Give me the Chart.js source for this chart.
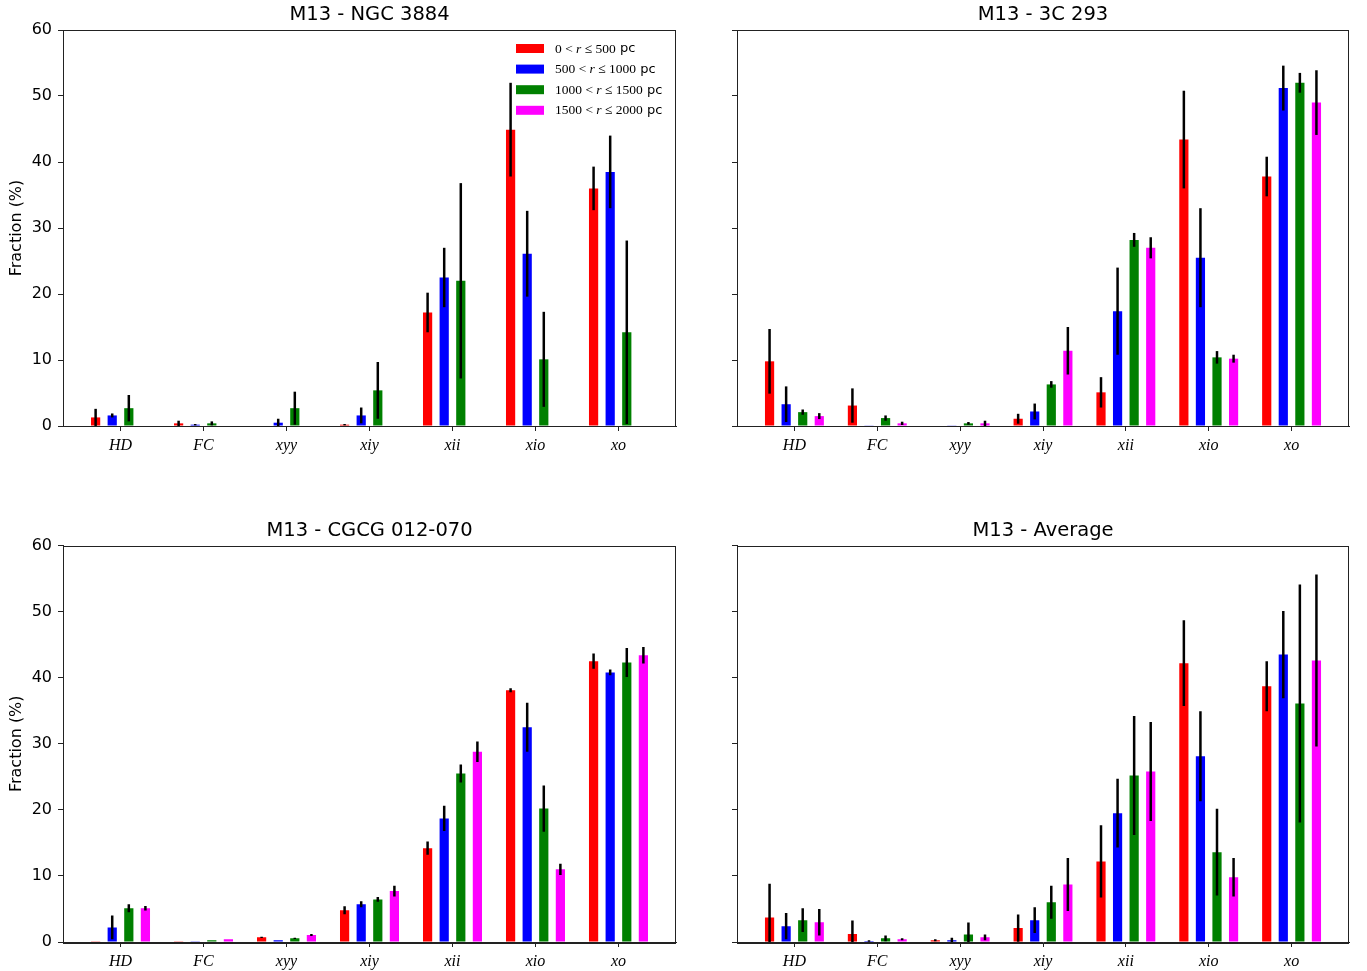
<!DOCTYPE html>
<html>
<head>
<meta charset="utf-8">
<script src="https://cdn.jsdelivr.net/npm/chart.js@4.4.1/dist/chart.umd.min.js"></script>
<style>
body { margin: 0; background: #fff; width: 1367px; height: 971px; position: relative; overflow: hidden; }
canvas { position: absolute; }
</style>
</head>
<body>
<canvas id="c1"></canvas>
<canvas id="c2"></canvas>
<canvas id="c3"></canvas>
<canvas id="c4"></canvas>
<script>
// categories and radial bins
const categories = ['HD', 'FC', 'xyy', 'xiy', 'xii', 'xio', 'xo'];
const binLo = [0, 500, 1000, 1500];
const binHi = [500, 1000, 1500, 2000];
const yTicks = [0, 10, 20, 30, 40, 50, 60];
const colors = ['#ff0000', '#0000ff', '#008000', '#ff00ff'];

// fractions (%) per bin, one row per radial bin
const ngc3884Frac = [
    [1.3, 0.4, 0, 0.2, 17.2, 44.9, 36.0],
    [1.6, 0.2, 0.5, 1.6, 22.5, 26.1, 38.5],
    [2.7, 0.4, 2.7, 5.4, 22.0, 10.1, 14.2],
    [0, 0, 0, 0, 0, 0, 0]
];
const ngc3884Err = [
    [1.3, 0.4, 0, 0.1, 3.0, 7.1, 3.3],
    [0.3, 0.1, 0.6, 1.2, 4.5, 6.5, 5.5],
    [2.0, 0.3, 2.5, 4.3, 14.8, 7.2, 13.9],
    [0, 0, 0, 0, 0, 0, 0]
];
const c3c293Frac = [
    [9.8, 3.1, 0, 1.1, 5.1, 43.4, 37.8],
    [3.3, 0.1, 0.05, 2.2, 17.4, 25.5, 51.2],
    [2.1, 1.2, 0.4, 6.3, 28.2, 10.4, 52.0],
    [1.5, 0.4, 0.4, 11.4, 27.0, 10.2, 49.0]
];
const c3c293Err = [
    [4.9, 2.6, 0, 0.75, 2.3, 7.4, 3.0],
    [2.7, 0, 0, 1.2, 6.6, 7.5, 3.4],
    [0.4, 0.4, 0.2, 0.5, 1.05, 0.95, 1.5],
    [0.45, 0.25, 0.4, 3.6, 1.6, 0.6, 4.9]
];
const cgcgFrac = [
    [0.05, 0.05, 0.7, 4.8, 14.2, 38.1, 42.5],
    [2.2, 0.05, 0.25, 5.7, 18.7, 32.5, 40.8],
    [5.1, 0.25, 0.55, 6.45, 25.5, 20.2, 42.3],
    [5.1, 0.4, 1.05, 7.7, 28.8, 11.0, 43.4]
];
const cgcgErr = [
    [0, 0, 0.1, 0.6, 1.0, 0.3, 1.15],
    [1.8, 0, 0, 0.45, 1.9, 3.7, 0.45],
    [0.6, 0, 0.1, 0.35, 1.35, 3.5, 2.2],
    [0.35, 0, 0.15, 0.8, 1.55, 0.85, 1.25]
];
const avgFrac = [
    [3.7, 1.2, 0.25, 2.1, 12.2, 42.2, 38.7],
    [2.4, 0.15, 0.25, 3.3, 19.5, 28.1, 43.5],
    [3.3, 0.55, 1.15, 6.0, 25.2, 13.6, 36.1],
    [3.0, 0.4, 0.7, 8.7, 25.8, 9.8, 42.6]
];
const avgErr = [
    [5.1, 2.05, 0.15, 2.05, 5.45, 6.5, 3.8],
    [2.0, 0.1, 0.4, 1.95, 5.2, 6.8, 6.6],
    [1.8, 0.45, 1.8, 2.5, 9.0, 6.55, 18.0],
    [2.0, 0.15, 0.45, 4.0, 7.5, 2.9, 13.0]
];

// canvas rect (cx,cy,cw,ch) and plot-area edges (l,t,r,b) in page px
const panels = [
    { id: 'c1', title: 'M13 - NGC 3884', frac: ngc3884Frac, err: ngc3884Err, legend: true, yLabel: true,
      cx: 0, cy: 0, cw: 683, ch: 485, l: 63, t: 30, r: 676, b: 426 },
    { id: 'c2', title: 'M13 - 3C 293', frac: c3c293Frac, err: c3c293Err, legend: false, yLabel: false,
      cx: 683, cy: 0, cw: 684, ch: 485, l: 737, t: 30, r: 1349, b: 426 },
    { id: 'c3', title: 'M13 - CGCG 012-070', frac: cgcgFrac, err: cgcgErr, legend: false, yLabel: true,
      cx: 0, cy: 485, cw: 683, ch: 486, l: 63, t: 545.5, r: 676, b: 942 },
    { id: 'c4', title: 'M13 - Average', frac: avgFrac, err: avgErr, legend: false, yLabel: false,
      cx: 683, cy: 485, cw: 684, ch: 486, l: 737, t: 545.5, r: 1349, b: 942 }
];

const errorBars = {
    id: 'errorBars',
    afterDatasetsDraw(chart) {
        const ctx = chart.ctx;
        const area = chart.chartArea;
        const y = chart.scales.y;
        ctx.save();
        ctx.beginPath();
        ctx.rect(area.left, area.top, area.right - area.left, area.bottom - area.top);
        ctx.clip();
        ctx.strokeStyle = '#000';
        ctx.lineWidth = 2.5;
        chart.data.datasets.forEach((ds, d) => {
            const meta = chart.getDatasetMeta(d);
            meta.data.forEach((bar, i) => {
                const v = ds.data[i].y, e = ds.errors[i];
                if (!e) return;
                ctx.beginPath();
                ctx.moveTo(bar.x, y.getPixelForValue(v + e));
                ctx.lineTo(bar.x, y.getPixelForValue(v - e));
                ctx.stroke();
            });
        });
        ctx.restore();
    }
};

function drawRangeLabel(ctx, x, y, lo, hi) {
    const parts = [
        [lo + ' < ', '13.5px "Liberation Serif"'],
        ['r', 'italic 13.5px "Liberation Serif"'],
        [' \u2264 ' + hi, '13.5px "Liberation Serif"'],
        [' pc', '13px "DejaVu Sans"']
    ];
    for (const [t, f] of parts) {
        ctx.font = f;
        ctx.fillText(t, x, y);
        x += ctx.measureText(t).width;
    }
}

const decor = {
    id: 'decor',
    afterDraw(chart, args, opts) {
        const ctx = chart.ctx;
        const a = chart.chartArea;
        ctx.save();
        ctx.strokeStyle = '#222';
        ctx.lineWidth = 1;
        ctx.strokeRect(Math.round(a.left) + 0.5, Math.round(a.top) + 0.5,
            Math.round(a.right - a.left) - 1, Math.round(a.bottom - a.top));
        ctx.fillStyle = '#000';
        ctx.font = '19.5px "DejaVu Sans"';
        ctx.textAlign = 'center';
        ctx.textBaseline = 'alphabetic';
        ctx.fillText(opts.title, (a.left + a.right) / 2, a.top - 10);
        if (opts.legend) {
            ctx.textAlign = 'left';
            ctx.textBaseline = 'middle';
            binLo.forEach((lo, s) => {
                const py = a.top + 14 + s * 20.6;
                ctx.fillStyle = colors[s];
                ctx.fillRect(a.right - 160, py, 28, 9);
                ctx.fillStyle = '#000';
                drawRangeLabel(ctx, a.right - 121, py + 5, lo, binHi[s]);
            });
        }
        ctx.restore();
    }
};

function makePanel(p) {
    const cv = document.getElementById(p.id);
    cv.width = p.cw; cv.height = p.ch;
    cv.style.left = p.cx + 'px'; cv.style.top = p.cy + 'px';
    cv.style.width = p.cw + 'px'; cv.style.height = p.ch + 'px';
    const axisW = p.l - p.cx, axisH = 29;

    const datasets = p.frac.map((vals, s) => ({
        label: binLo[s] + ' < r <= ' + binHi[s] + ' pc',
        data: vals.map((v, i) => ({ x: i, y: v })),
        errors: p.err[s],
        backgroundColor: colors[s],
        borderWidth: 0,
        categoryPercentage: 0.8,
        barPercentage: 0.555
    }));

    new Chart(cv, {
        type: 'bar',
        data: { datasets },
        options: {
            responsive: false,
            animation: false,
            devicePixelRatio: 1,
            layout: { padding: { left: 0, top: p.t - p.cy, right: p.cx + p.cw - p.r, bottom: p.cy + p.ch - p.b - axisH } },
            plugins: {
                legend: { display: false },
                tooltip: { enabled: false },
                decor: { title: p.title, legend: p.legend }
            },
            scales: {
                x: {
                    type: 'linear', min: -0.693, max: 6.693, offset: false,
                    afterBuildTicks: sc => { sc.ticks = categories.map((_, i) => ({ value: i })); },
                    afterFit: sc => { sc.height = axisH; },
                    grid: { drawOnChartArea: false, drawTicks: true, tickLength: 5, color: '#222', offset: false },
                    border: { display: true, color: '#222', width: 1 },
                    ticks: {
                        callback: v => categories[v],
                        font: { family: 'Liberation Serif', style: 'italic', size: 16 },
                        color: '#000', padding: 5, maxRotation: 0, autoSkip: false
                    }
                },
                y: {
                    min: 0, max: 60,
                    afterBuildTicks: sc => { sc.ticks = yTicks.map(v => ({ value: v })); },
                    afterFit: sc => { sc.width = axisW; },
                    grid: { drawOnChartArea: false, drawTicks: true, tickLength: 5, color: '#222' },
                    border: { display: true, color: '#222', width: 1 },
                    ticks: {
                        callback: v => p.yLabel ? String(v) : '',
                        font: { family: 'DejaVu Sans', size: 16 },
                        color: '#000', padding: 6
                    },
                    title: {
                        display: p.yLabel, text: 'Fraction (%)', color: '#000',
                        font: { family: 'DejaVu Sans', size: 16 },
                        padding: { top: 7, bottom: 0 }
                    }
                }
            }
        },
        plugins: [errorBars, decor]
    });
}

panels.forEach(makePanel);
</script>
</body>
</html>
